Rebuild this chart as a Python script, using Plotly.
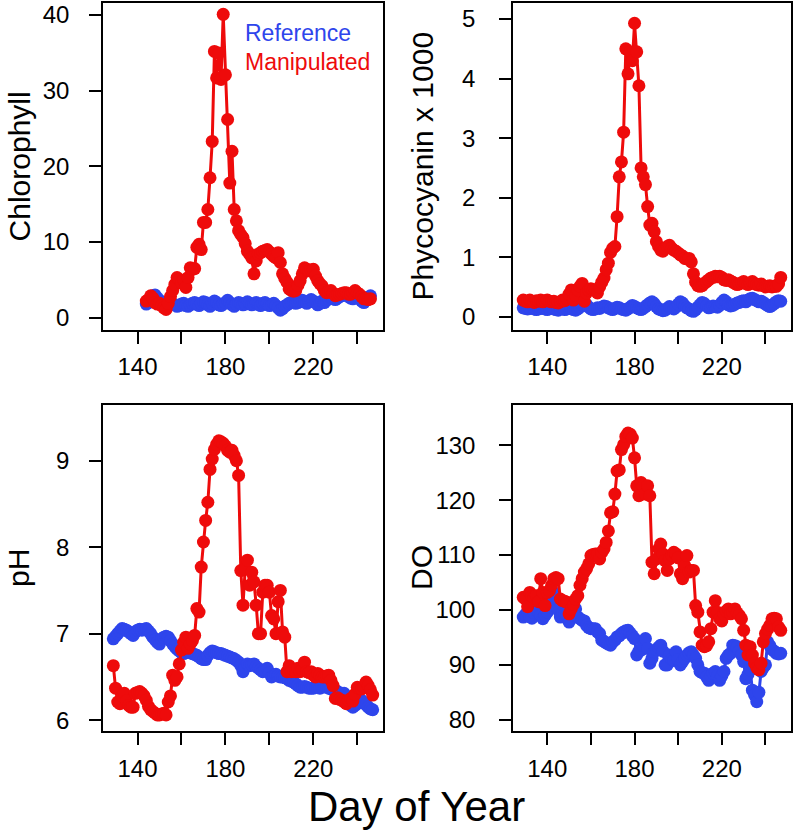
import plotly.graph_objects as go

# day of year for the daily samples
days = list(range(129, 248))
chl_days = list(range(144, 247))

chl_ref = [1.8, 2.0, 2.4, 2.9, 3.0, 2.6, 2.3, 2.0, 1.8, 1.7,
           1.9, 2.0, 1.8, 1.7, 1.5, 1.6, 1.8, 1.9, 1.6, 1.5,
           1.7, 1.9, 2.0, 1.8, 1.6, 1.9, 2.1, 2.0, 1.7, 1.5,
           1.9, 2.2, 2.0, 1.7, 1.6, 1.8, 2.0, 2.3, 2.0, 1.7,
           1.5, 1.8, 2.0, 1.9, 1.7, 1.8, 2.1, 1.9, 1.7, 1.8,
           2.0, 1.8, 1.6, 1.9, 2.0, 1.8, 1.6, 1.7, 1.9, 1.6,
           1.3, 1.0, 1.2, 1.5, 1.7, 1.9, 2.0, 2.1, 1.9, 2.0,
           2.2, 2.3, 2.1, 1.9, 2.2, 2.4, 2.2, 2.0, 1.7, 1.9,
           2.2, 2.0, 2.3, 2.5, 2.7, 2.5, 2.4, 2.6, 2.8, 3.0,
           3.1, 3.0, 2.8, 2.6, 2.5, 2.7, 2.8, 2.5, 2.2, 2.0,
           2.3, 2.7, 2.9]
chl_man = [2.2, 2.4, 2.9, 2.6, 2.0, 1.8, 1.9, 1.6, 1.3, 1.1,
           1.9, 2.8, 3.6, 4.4, 5.3, 5.0, 4.6, 5.0, 4.0, 5.3,
           6.6, 6.4, 6.5, 9.3, 9.7, 9.0, 12.6, 12.6, 14.3, 18.5,
           23.3, 35.2, 31.7, 35.0, 31.5, 40.1, 32.1, 26.2, 17.8, 22.0,
           14.3, 12.8, 11.5, 11.0, 10.6, 9.8, 8.8, 8.4, 7.9, 5.8,
           7.5, 8.4, 8.6, 8.8, 8.9, 9.0, 8.7, 8.4, 8.1, 7.9,
           8.6, 7.3, 5.8, 5.2, 4.7, 3.8, 3.6, 3.5, 3.6, 4.3,
           4.9, 5.8, 6.6, 6.4, 6.2, 6.3, 6.4, 5.5, 4.9, 4.5,
           4.2, 3.6, 3.3, 3.5, 3.6, 3.2, 2.9, 3.0, 3.1, 3.2,
           3.3, 3.3, 3.1, 3.1, 3.3, 3.6, 3.3, 3.1, 2.8, 2.5,
           2.5, 2.4, 2.5]

pc_ref = [0.15, 0.14, 0.13, 0.14, 0.15, 0.13, 0.12, 0.13, 0.14, 0.15,
          0.13, 0.12, 0.14, 0.15, 0.13, 0.12, 0.11, 0.13, 0.14, 0.12,
          0.13, 0.15, 0.14, 0.12, 0.11, 0.13, 0.16, 0.20, 0.22, 0.20,
          0.16, 0.13, 0.12, 0.13, 0.15, 0.14, 0.16, 0.18, 0.17, 0.15,
          0.13, 0.12, 0.14, 0.16, 0.15, 0.13, 0.12, 0.11, 0.13, 0.16,
          0.19, 0.17, 0.15, 0.13, 0.12, 0.14, 0.17, 0.20, 0.23, 0.25,
          0.22, 0.17, 0.13, 0.12, 0.10, 0.11, 0.14, 0.17, 0.15, 0.13,
          0.16, 0.21, 0.25, 0.23, 0.18, 0.15, 0.13, 0.10, 0.09, 0.12,
          0.16, 0.20, 0.24, 0.22, 0.18, 0.15, 0.16, 0.18, 0.17, 0.16,
          0.19, 0.24, 0.28, 0.25, 0.20, 0.18, 0.19, 0.21, 0.23, 0.24,
          0.26, 0.27, 0.25, 0.28, 0.30, 0.31, 0.29, 0.27, 0.25, 0.26,
          0.24, 0.21, 0.19, 0.17, 0.19, 0.22, 0.25, 0.27, 0.26]
pc_man = [0.28, 0.26, 0.25, 0.28, 0.26, 0.24, 0.27, 0.26, 0.28, 0.25,
          0.27, 0.28, 0.26, 0.25, 0.26, 0.24, 0.23, 0.25, 0.28, 0.27,
          0.30, 0.38, 0.45, 0.28, 0.36, 0.45, 0.51, 0.56, 0.26, 0.40,
          0.45, 0.47, 0.45, 0.44, 0.40, 0.50, 0.58, 0.65, 0.79, 0.90,
          1.08, 1.15, 1.18, 1.68, 2.35, 2.60, 3.10, 4.50, 4.08, 4.45,
          4.30, 4.93, 4.45, 3.88, 2.50, 2.35, 2.22, 1.85, 1.54, 1.57,
          1.43, 1.26, 1.18, 1.12, 1.10, 1.15, 1.18, 1.20, 1.15, 1.12,
          1.10, 1.07, 1.04, 1.02, 0.98, 0.97, 0.98, 0.92, 0.72, 0.58,
          0.52, 0.51, 0.52, 0.56, 0.59, 0.62, 0.65, 0.66, 0.68, 0.67,
          0.68, 0.66, 0.62, 0.61, 0.62, 0.60, 0.58, 0.56, 0.54, 0.55,
          0.57, 0.59, 0.56, 0.54, 0.57, 0.59, 0.56, 0.54, 0.53, 0.55,
          0.52, 0.50, 0.51, 0.52, 0.50, 0.51, 0.51, 0.55, 0.66]

ph_ref = [6.94, 6.97, 7.00, 7.03, 7.06, 7.05, 7.04, 7.02, 7.00, 6.98,
          7.02, 7.04, 7.05, 7.04, 7.05, 7.06, 7.03, 7.00, 6.96, 6.93,
          6.90, 6.88, 6.94, 6.96, 6.97, 6.96, 6.92, 6.88, 6.85, 6.82,
          6.80, 6.78, 6.77, 6.78, 6.79, 6.78, 6.77, 6.76, 6.75, 6.73,
          6.71, 6.70, 6.70, 6.75, 6.78, 6.80, 6.79, 6.78, 6.77, 6.77,
          6.76, 6.75, 6.74, 6.73, 6.72, 6.71, 6.69, 6.67, 6.63, 6.56,
          6.62, 6.65, 6.63, 6.64, 6.65, 6.62, 6.60, 6.58, 6.56, 6.58,
          6.60, 6.55, 6.50, 6.52, 6.53, 6.51, 6.50, 6.50, 6.49, 6.48,
          6.46, 6.45, 6.44, 6.42, 6.40, 6.38, 6.38, 6.39, 6.38, 6.37,
          6.37, 6.37, 6.38, 6.38, 6.37, 6.38, 6.39, 6.38, 6.37, 6.36,
          6.35, 6.34, 6.33, 6.31, 6.31, 6.31, 6.27, 6.21, 6.17, 6.15,
          6.17, 6.19, 6.21, 6.23, 6.20, 6.18, 6.15, 6.13, 6.12]
ph_man = [6.63, 6.37, 6.21, 6.19, 6.28, 6.31, 6.22, 6.17, 6.15, 6.15,
          6.31, 6.32, 6.33, 6.31, 6.28, 6.23, 6.16, 6.12, 6.10, 6.08,
          6.06, 6.06, 6.07, 6.08, 6.06, 6.21, 6.28, 6.52, 6.46, 6.50,
          6.65, 6.81, 6.90, 6.96, 6.83, 6.88, 6.92, 6.98, 7.29, 7.25,
          7.77, 8.06, 8.31, 8.52, 8.90, 9.02, 9.13, 9.19, 9.23, 9.22,
          9.20, 9.17, 9.12, 9.10, 9.12, 9.06, 9.00, 8.83, 7.73, 7.33,
          7.75, 7.85, 7.56, 7.71, 7.60, 7.33, 7.00, 7.00, 7.48, 7.56,
          7.56, 7.48, 7.21, 7.17, 7.00, 7.37, 7.50, 7.02, 6.96, 6.56,
          6.63, 6.56, 6.58, 6.56, 6.60, 6.56, 6.58, 6.67, 6.56, 6.55,
          6.56, 6.52, 6.50, 6.54, 6.52, 6.50, 6.50, 6.51, 6.52, 6.46,
          6.40, 6.25, 6.26, 6.24, 6.23, 6.21, 6.19, 6.23, 6.25, 6.22,
          6.30, 6.38, 6.37, 6.36, 6.38, 6.44, 6.40, 6.35, 6.29]

do_ref = [98.7, 99.2, 99.6, 98.8, 98.5, 99.5, 100.2, 99.6, 99.0, 98.4,
          99.0, 99.6, 100.5, 101.4, 103.2, 102.0, 100.0, 98.7, 99.5, 99.3,
          99.0, 97.8, 99.0, 99.6, 100.2, 98.7, 98.4, 98.1, 98.0, 97.2,
          96.8, 96.6, 96.6, 96.6, 96.0, 95.7, 94.5, 94.3, 94.0, 93.8,
          93.6, 94.2, 94.5, 95.1, 95.3, 95.7, 96.0, 96.2, 96.3, 95.8,
          95.3, 94.8, 91.8, 92.5, 92.7, 93.5, 94.8, 93.0, 90.3, 91.2,
          92.4, 92.8, 93.2, 93.6, 92.5, 90.0, 90.0, 91.8, 91.0, 90.8,
          92.4, 91.0, 90.0, 90.6, 91.2, 91.8, 92.2, 92.4, 91.8, 91.2,
          90.0, 88.8, 88.6, 88.5, 87.8, 87.2, 88.0, 88.5, 88.8, 88.0,
          87.2, 88.0, 88.8, 91.2, 91.8, 92.1, 93.6, 93.5, 93.3, 92.5,
          91.8, 90.6, 87.5, 88.3, 89.1, 85.4, 84.5, 83.3, 85.0, 88.8,
          89.5, 90.0, 94.2, 93.5, 92.8, 92.5, 92.1, 92.0, 92.1]
do_man = [102.3, 102.0, 100.6, 103.2, 102.5, 102.3, 102.6, 101.5, 105.7, 103.2,
          100.8, 103.2, 103.5, 104.5, 105.7, 105.9, 105.7, 102.0, 101.7, 101.6,
          101.4, 99.3, 100.2, 101.0, 102.0, 102.6, 104.5, 105.7, 106.9, 107.5,
          108.4, 109.9, 110.1, 110.2, 110.2, 109.3, 110.5, 111.1, 112.3, 114.4,
          117.7, 117.9, 121.1, 125.3, 125.5, 129.2, 130.1, 131.6, 132.2, 132.0,
          131.3, 127.7, 122.6, 120.8, 123.2, 122.6, 121.1, 122.6, 120.8, 108.7,
          106.6, 109.3, 111.1, 112.0, 110.2, 109.0, 107.2, 109.3, 110.0, 110.5,
          110.2, 109.5, 106.6, 105.7, 108.1, 109.9, 106.9, 107.2, 107.2, 100.8,
          99.6, 96.0, 93.6, 93.3, 93.5, 94.2, 96.6, 99.6, 101.7, 99.6,
          98.4, 98.0, 99.3, 99.8, 100.2, 99.3, 99.6, 100.2, 99.5, 99.0,
          98.4, 96.3, 93.6, 91.8, 93.3, 91.8, 90.3, 89.5, 89.1, 90.3,
          94.2, 95.7, 96.5, 97.2, 98.4, 98.5, 98.4, 96.9, 96.3]

assert len(chl_ref) == len(chl_man) == len(chl_days)
for s in (pc_ref, pc_man, ph_ref, ph_man, do_ref, do_man):
    assert len(s) == len(days), len(s)

BLUE = "#2e45ec"
RED = "#ee0b0b"
FONT = "Liberation Sans, Arial, sans-serif"
W, H = 793, 836

panels = [
    ("x", "y", chl_days, chl_ref, chl_man),
    ("x2", "y2", days, pc_ref, pc_man),
    ("x3", "y3", days, ph_ref, ph_man),
    ("x4", "y4", days, do_ref, do_man),
]

fig = go.Figure()
for xa, ya, d, ref, man in panels:
    fig.add_trace(go.Scatter(x=d, y=ref, xaxis=xa, yaxis=ya, mode="lines+markers",
                             line=dict(color=BLUE, width=3), marker=dict(color=BLUE, size=13),
                             showlegend=False))
    fig.add_trace(go.Scatter(x=d, y=man, xaxis=xa, yaxis=ya, mode="lines+markers",
                             line=dict(color=RED, width=3), marker=dict(color=RED, size=13),
                             showlegend=False))

# panel boxes in pixels (left, right, top, bottom)
boxes = [(103, 383, 2, 330), (513, 791, 2, 330), (103, 383, 405, 733), (513, 791, 405, 733)]
yranges = [[-1.6, 41.6], [-0.22, 5.27], [5.87, 9.65], [77.9, 137.4]]
yticks = [[0, 10, 20, 30, 40], [0, 1, 2, 3, 4, 5], [6, 7, 8, 9], [80, 90, 100, 110, 120, 130]]
ystandoff = [15, 19, 15, 19]
xticks = [140, 160, 180, 200, 220, 240]
xlabels = ["140", "", "180", "", "220", ""]

axis_common = dict(showline=True, linecolor="black", linewidth=1.5, mirror=True,
                   ticks="outside", ticklen=12, tickwidth=1.5, tickcolor="black",
                   showgrid=False, zeroline=False, ticklabeloverflow="allow",
                   tickfont=dict(family=FONT, size=24, color="black"))

layout = {}
for i, ((l, r, t, b), yr, yt, so) in enumerate(zip(boxes, yranges, yticks, ystandoff)):
    sfx = "" if i == 0 else str(i + 1)
    layout["xaxis" + sfx] = dict(axis_common, domain=[l / W, r / W], range=[124.3, 251.7],
                                 tickvals=xticks, ticktext=xlabels, anchor="y" + sfx,
                                 ticklabelstandoff=3)
    layout["yaxis" + sfx] = dict(axis_common, domain=[1 - b / H, 1 - t / H], range=yr,
                                 tickvals=yt, anchor="x" + sfx, ticklabelstandoff=so)

annotations = []
titles = [("Chlorophyll", 19, 166), ("Phycocyanin x 1000", 422, 166),
          ("pH", 19, 569), ("DO", 422, 569)]
for txt, px_, py_ in titles:
    annotations.append(dict(text=txt, x=px_ / W, y=1 - py_ / H, xref="paper", yref="paper",
                            textangle=-90, showarrow=False, xanchor="center", yanchor="middle",
                            font=dict(family=FONT, size=30, color="black")))
annotations.append(dict(text="Day of Year", x=417 / W, y=1 - 808 / H, xref="paper", yref="paper",
                        showarrow=False, xanchor="center", yanchor="middle",
                        font=dict(family=FONT, size=42, color="black")))
annotations.append(dict(text="Reference", x=243 / W, y=1 - 32 / H, xref="paper", yref="paper",
                        showarrow=False, xanchor="left", yanchor="middle",
                        font=dict(family=FONT, size=23, color=BLUE)))
annotations.append(dict(text="Manipulated", x=243 / W, y=1 - 61 / H, xref="paper", yref="paper",
                        showarrow=False, xanchor="left", yanchor="middle",
                        font=dict(family=FONT, size=23, color=RED)))

fig.update_layout(width=W, height=H, margin=dict(l=0, r=0, t=0, b=0),
                  paper_bgcolor="white", plot_bgcolor="white",
                  annotations=annotations, **layout)

# drop the default page margin so the figure sits at the window's top-left corner
fig.write_html("out.html", config={"displayModeBar": False},
               post_script="document.body.style.margin='0px';")
